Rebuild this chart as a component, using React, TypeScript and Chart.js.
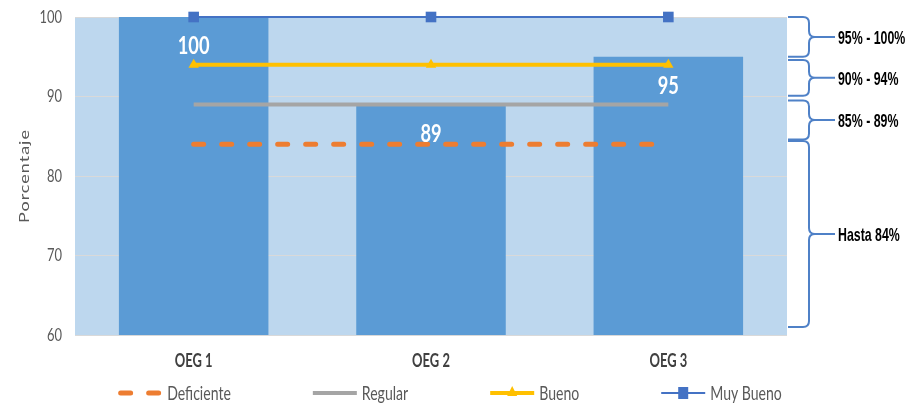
import React, { useEffect, useRef } from "react";
import { Chart, registerables } from "chart.js";

Chart.register(...registerables);

const categories = ["OEG 1", "OEG 2", "OEG 3"];
const barValues = [100, 89, 95];
const deficiente = [84, 84, 84];
const regular = [89, 89, 89];
const bueno = [94, 94, 94];
const muyBueno = [100, 100, 100];
const yMin = 60;
const yMax = 100;
const yStep = 10;
const yTitle = "Porcentaje";
const bandLabels = ["95% - 100%", "90% - 94%", "85% - 89%", "Hasta 84%"];
const bandTop = [100, 94.6, 89.5, 84.4];
const bandBottom = [95, 90.1, 84.6, 61.0];

const FONT = "Lato, 'Open Sans', sans-serif";
const SX = 0.72;

function txt(
  ctx: CanvasRenderingContext2D,
  s: string,
  x: number,
  y: number,
  font: string,
  color: string,
  align: CanvasTextAlign,
  sx = SX
) {
  ctx.save();
  ctx.translate(x, y);
  ctx.scale(sx, 1);
  ctx.font = font;
  ctx.fillStyle = color;
  ctx.textAlign = align;
  ctx.textBaseline = "middle";
  ctx.fillText(s, 0, 0);
  ctx.restore();
}

const bgPlugin = {
  id: "plotBg",
  beforeDraw(chart: any) {
    const { ctx, chartArea: a } = chart;
    ctx.save();
    ctx.fillStyle = "#BDD7EE";
    ctx.fillRect(a.left, a.top, a.right - a.left, a.bottom - a.top);
    ctx.restore();
  },
};

const axisTextPlugin = {
  id: "axisText",
  afterDraw(chart: any) {
    const { ctx, chartArea: a, scales } = chart;
    scales.y.ticks.forEach((t: any) => {
      const py = scales.y.getPixelForValue(t.value);
      txt(ctx, String(t.value), a.left - 13, py, `18px ${FONT}`, "#595959", "right");
    });
    categories.forEach((c, i) => {
      const px = scales.x.getPixelForValue(i);
      txt(ctx, c, px, a.bottom + 26, `bold 18px ${FONT}`, "#404040", "center");
    });
    ctx.save();
    ctx.translate(25, (a.top + a.bottom) / 2);
    ctx.rotate(-Math.PI / 2);
    ctx.scale(1, 0.75);
    ctx.fillStyle = "#595959";
    ctx.font = `18px ${FONT}`;
    (ctx as any).letterSpacing = "1px";
    ctx.textAlign = "center";
    ctx.textBaseline = "middle";
    ctx.fillText(yTitle, 0, 0);
    ctx.restore();
  },
};

const labelsPlugin = {
  id: "barLabels",
  afterDatasetsDraw(chart: any) {
    const { ctx } = chart;
    const meta = chart.getDatasetMeta(0);
    meta.data.forEach((el: any, i: number) => {
      txt(ctx, String(barValues[i]), el.x, el.y + 29, `bold 25px ${FONT}`, "#FFFFFF", "center", 0.73);
    });
  },
};

const bracePlugin = {
  id: "braces",
  afterDraw(chart: any) {
    const { ctx, chartArea: a, scales } = chart;
    const y = scales.y;
    const xa = a.right + 1;
    const xv = a.right + 22;
    const xt = a.right + 48;
    const r = 6;
    ctx.save();
    ctx.strokeStyle = "#4F81C7";
    ctx.lineWidth = 2;
    bandLabels.forEach((lab, i) => {
      const yt = y.getPixelForValue(bandTop[i]);
      const yb = y.getPixelForValue(bandBottom[i]);
      const mid = (yt + yb) / 2;
      ctx.beginPath();
      ctx.moveTo(xa, yt);
      ctx.lineTo(xv - r, yt);
      ctx.quadraticCurveTo(xv, yt, xv, yt + r);
      ctx.lineTo(xv, mid - r);
      ctx.quadraticCurveTo(xv, mid, xv + r, mid);
      ctx.lineTo(xt, mid);
      ctx.moveTo(xv + r, mid);
      ctx.quadraticCurveTo(xv, mid, xv, mid + r);
      ctx.lineTo(xv, yb - r);
      ctx.quadraticCurveTo(xv, yb, xv - r, yb);
      ctx.lineTo(xa, yb);
      ctx.stroke();
      txt(ctx, lab, xt + 3, mid + 2, `bold 19px 'Liberation Sans', Arial, sans-serif`, "#000000", "left", 0.65);
    });
    ctx.restore();
  },
};

const legendPlugin = {
  id: "customLegend",
  afterDraw(chart: any) {
    const { ctx, chartArea: a } = chart;
    const ds = chart.data.datasets.slice(1);
    const ly = 393;
    const markerW = 44;
    const gap = 82;
    const lfont = `19px ${FONT}`;
    ctx.save();
    ctx.font = lfont;
    const widths = ds.map((d: any) => markerW + 5 + ctx.measureText(d.label).width * 0.74);
    const total = widths.reduce((s: number, w: number) => s + w, 0) + gap * (ds.length - 1);
    let x = (a.left + a.right) / 2 + 19 - total / 2;
    ds.forEach((d: any, i: number) => {
      ctx.save();
      ctx.strokeStyle = d.borderColor;
      ctx.lineWidth = d.borderWidth;
      ctx.lineCap = d.borderDash ? "round" : "butt";
      ctx.setLineDash(d.borderDash || []);
      ctx.beginPath();
      if (d.borderDash) {
        ctx.moveTo(x + 2.5, ly);
        ctx.lineTo(x + markerW - 2.5, ly);
      } else {
        ctx.moveTo(x, ly);
        ctx.lineTo(x + markerW, ly);
      }
      ctx.stroke();
      ctx.setLineDash([]);
      const cx = x + markerW / 2;
      ctx.fillStyle = d.pointBackgroundColor || d.borderColor;
      if (d.pointStyle === "triangle") {
        ctx.beginPath();
        ctx.moveTo(cx, ly - 7);
        ctx.lineTo(cx + 5, ly + 3);
        ctx.lineTo(cx - 5, ly + 3);
        ctx.closePath();
        ctx.fill();
      } else if (d.pointStyle === "rect") {
        ctx.fillRect(cx - 5, ly - 6, 10, 12);
      }
      ctx.restore();
      txt(ctx, d.label, x + markerW + 5, ly + 1, lfont, "#595959", "left", 0.74);
      x += widths[i] + gap;
    });
    ctx.restore();
  },
};

export default function App() {
  const canvasRef = useRef<HTMLCanvasElement | null>(null);

  useEffect(() => {
    document.body.style.margin = "0";
    const canvas = canvasRef.current;
    if (!canvas) return;
    const chart = new Chart(canvas, {
      type: "bar",
      data: {
        labels: categories,
        datasets: [
          {
            type: "bar",
            label: "OEG",
            data: barValues,
            backgroundColor: "#5B9BD5",
            borderWidth: 0,
            categoryPercentage: 1,
            barPercentage: 0.63,
            order: 10,
          } as any,
          {
            type: "line",
            label: "Deficiente",
            data: deficiente,
            borderColor: "#ED7D31",
            borderWidth: 5,
            borderDash: [10, 18],
            borderCapStyle: "round",
            pointRadius: 0,
            clip: false,
            order: 4,
          },
          {
            type: "line",
            label: "Regular",
            data: regular,
            borderColor: "#A5A5A5",
            borderWidth: 4,
            pointRadius: 0,
            clip: false,
            order: 3,
          },
          {
            type: "line",
            label: "Bueno",
            data: bueno,
            borderColor: "#FFC000",
            borderWidth: 4,
            pointStyle: "triangle",
            pointRadius: 6,
            pointBackgroundColor: "#FFC000",
            pointBorderWidth: 0,
            clip: false,
            order: 2,
          },
          {
            type: "line",
            label: "Muy Bueno",
            data: muyBueno,
            borderColor: "#4472C4",
            borderWidth: 2,
            pointStyle: "rect",
            pointRadius: 7.5,
            pointBackgroundColor: "#4472C4",
            pointBorderWidth: 0,
            clip: false,
            order: 1,
          },
        ],
      },
      options: {
        responsive: false,
        animation: false,
        layout: { padding: { top: 17, right: 135, left: 0, bottom: 0 } },
        plugins: {
          legend: { display: false },
          tooltip: { enabled: false },
          title: { display: false },
        },
        scales: {
          x: {
            grid: { display: false, drawTicks: false },
            border: { display: false },
            ticks: { display: false },
            afterFit(scale: any) {
              scale.height = 71;
            },
          },
          y: {
            min: yMin,
            max: yMax,
            grid: { color: "#D9D9D9", lineWidth: 1, drawTicks: false },
            border: { display: false },
            ticks: { display: false, stepSize: yStep },
            afterFit(scale: any) {
              scale.width = 75;
            },
          },
        },
      },
      plugins: [bgPlugin, labelsPlugin, axisTextPlugin, bracePlugin, legendPlugin],
    });
    return () => chart.destroy();
  }, []);

  return (
    <div style={{ width: 922, height: 406 }}>
      <canvas ref={canvasRef} width={922} height={406} />
    </div>
  );
}
